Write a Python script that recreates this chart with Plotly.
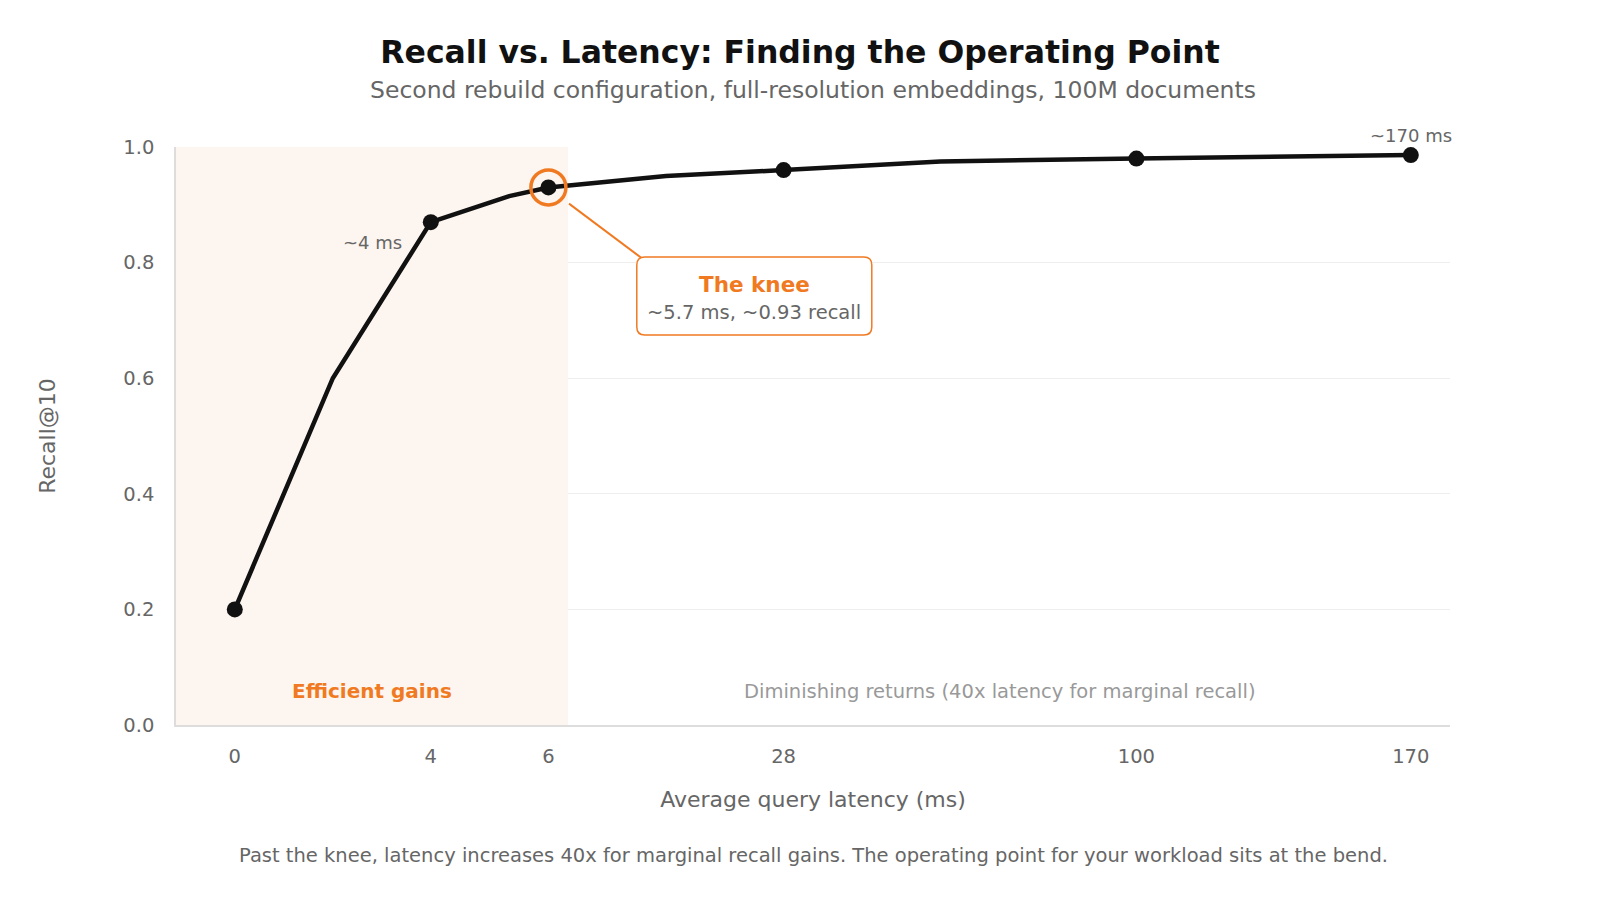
import plotly.graph_objects as go

# ---- data ----
# horizontal plot positions of the sampled operating points (axis is non-linear in ms)
pos = [0, 1, 2, 2.8, 3.2, 4.4, 5.6, 7.2, 9.2, 12]
recall = [0.2, 0.6, 0.87, 0.915, 0.93, 0.95, 0.96, 0.975, 0.98, 0.986]
marker_idx = [0, 2, 4, 6, 8, 9]
knee_idx = 4
tick_pos = [0, 2, 3.2, 5.6, 9.2, 12]
tick_text = ["0", "4", "6", "28", "100", "170"]
y_ticks = [0.0, 0.2, 0.4, 0.6, 0.8, 1.0]
y_tick_text = ["0.0", "0.2", "0.4", "0.6", "0.8", "1.0"]

ORANGE = "#f07a22"
GRAY = "#666666"
FONT = "DejaVu Sans"

fig = go.Figure()

fig.add_trace(go.Scatter(
    x=pos, y=recall, mode="lines",
    line=dict(color="#111111", width=4.5), hoverinfo="skip", showlegend=False))

fig.add_trace(go.Scatter(
    x=[pos[i] for i in marker_idx], y=[recall[i] for i in marker_idx],
    mode="markers", marker=dict(color="#111111", size=16),
    showlegend=False))

fig.add_trace(go.Scatter(
    x=[pos[knee_idx]], y=[recall[knee_idx]], mode="markers",
    marker=dict(symbol="circle-open", size=35, color=ORANGE, line=dict(width=3.5, color=ORANGE)),
    showlegend=False))

# shaded efficient region
fig.add_shape(type="rect", xref="x", yref="y", x0=-0.6, x1=3.4, y0=0, y1=1.0,
              fillcolor="#fdf5ef", line=dict(width=0), layer="between")

# connector from knee to callout box
fig.add_shape(type="line", xref="x", yref="y", x0=3.41, y0=0.902, x1=4.15, y1=0.808,
              line=dict(color=ORANGE, width=2))

# rounded callout box
bx0, bx1, by0, by1 = 4.102, 6.5, 0.6747, 0.8097
rx, ry = 8 / 98, 8 / 578
path = (f"M {bx0+rx},{by1} L {bx1-rx},{by1} Q {bx1},{by1} {bx1},{by1-ry} "
        f"L {bx1},{by0+ry} Q {bx1},{by0} {bx1-rx},{by0} "
        f"L {bx0+rx},{by0} Q {bx0},{by0} {bx0},{by0+ry} "
        f"L {bx0},{by1-ry} Q {bx0},{by1} {bx0+rx},{by1} Z")
fig.add_shape(type="path", xref="x", yref="y", path=path,
              fillcolor="white", line=dict(color=ORANGE, width=1.5))

fig.add_annotation(x=5.301, y=0.8097 - 28 / 578, xref="x", yref="y", showarrow=False,
                   text="<b>The knee</b>", yanchor="middle",
                   font=dict(family=FONT, size=21.5, color=ORANGE))
fig.add_annotation(x=5.301, y=0.8097 - 56 / 578, xref="x", yref="y", showarrow=False,
                   text="~5.7 ms, ~0.93 recall", yanchor="middle",
                   font=dict(family=FONT, size=19.5, color=GRAY))

fig.add_annotation(x=pos[2], y=recall[2], xref="x", yref="y", showarrow=False,
                   text="~4 ms", xanchor="right", xshift=-27, yshift=-20,
                   font=dict(family=FONT, size=18, color=GRAY))
fig.add_annotation(x=pos[9], y=recall[9], xref="x", yref="y", showarrow=False,
                   text="~170 ms", xanchor="center", yshift=20,
                   font=dict(family=FONT, size=18, color=GRAY))

fig.add_annotation(x=1.398, y=0.0588, xref="x", yref="y", showarrow=False,
                   text="<b>Efficient gains</b>", font=dict(family=FONT, size=20, color=ORANGE))
fig.add_annotation(x=7.806, y=0.0588, xref="x", yref="y", showarrow=False,
                   text="Diminishing returns (40x latency for marginal recall)",
                   font=dict(family=FONT, size=19.5, color="#999999"))

# subtitle and footer
fig.add_annotation(x=0.5, y=1.0986, xref="paper", yref="paper", showarrow=False,
                   xanchor="center", yanchor="middle",
                   text="Second rebuild configuration, full-resolution embeddings, 100M documents",
                   font=dict(family=FONT, size=23.5, color=GRAY))
fig.add_annotation(x=0.5, y=-0.2266, xref="paper", yref="paper", showarrow=False,
                   xanchor="center", yanchor="middle",
                   text="Past the knee, latency increases 40x for marginal recall gains. The operating point for your workload sits at the bend.",
                   font=dict(family=FONT, size=19.5, color=GRAY))

fig.update_layout(
    width=1600, height=900,
    paper_bgcolor="white", plot_bgcolor="white",
    margin=dict(l=176, r=150, t=147, b=175),
    font=dict(family=FONT, color=GRAY),
    title=dict(text="<b>Recall vs. Latency: Finding the Operating Point</b>",
               x=0.5, xanchor="center", y=1 - 52 / 900, yanchor="middle",
               font=dict(family=FONT, size=31.5, color="#111111")),
    showlegend=False,
    xaxis=dict(range=[-0.6, 12.4], tickvals=tick_pos, ticktext=tick_text,
               showgrid=False, zeroline=False, showline=True, linecolor="#dddddd", linewidth=1.5,
               ticks="outside", ticklen=13, tickcolor="rgba(0,0,0,0)",
               tickfont=dict(family=FONT, size=19.5, color=GRAY),
               title=dict(text="Average query latency (ms)", standoff=24,
                          font=dict(family=FONT, size=22, color=GRAY))),
    yaxis=dict(range=[0, 1.0], tickvals=y_ticks, ticktext=y_tick_text,
               showgrid=True, gridcolor="#eeeeee", gridwidth=1, zeroline=False,
               showline=True, linecolor="#e0dcdc", linewidth=1.5,
               ticks="outside", ticklen=16, tickcolor="rgba(0,0,0,0)",
               tickfont=dict(family=FONT, size=19.5, color=GRAY),
               title=dict(text="Recall@10", standoff=62,
                          font=dict(family=FONT, size=22, color=GRAY))),
)

fig.write_html("out.html", config={"displayModeBar": False},
               post_script="document.body.style.margin='0';document.body.style.overflow='hidden';")
